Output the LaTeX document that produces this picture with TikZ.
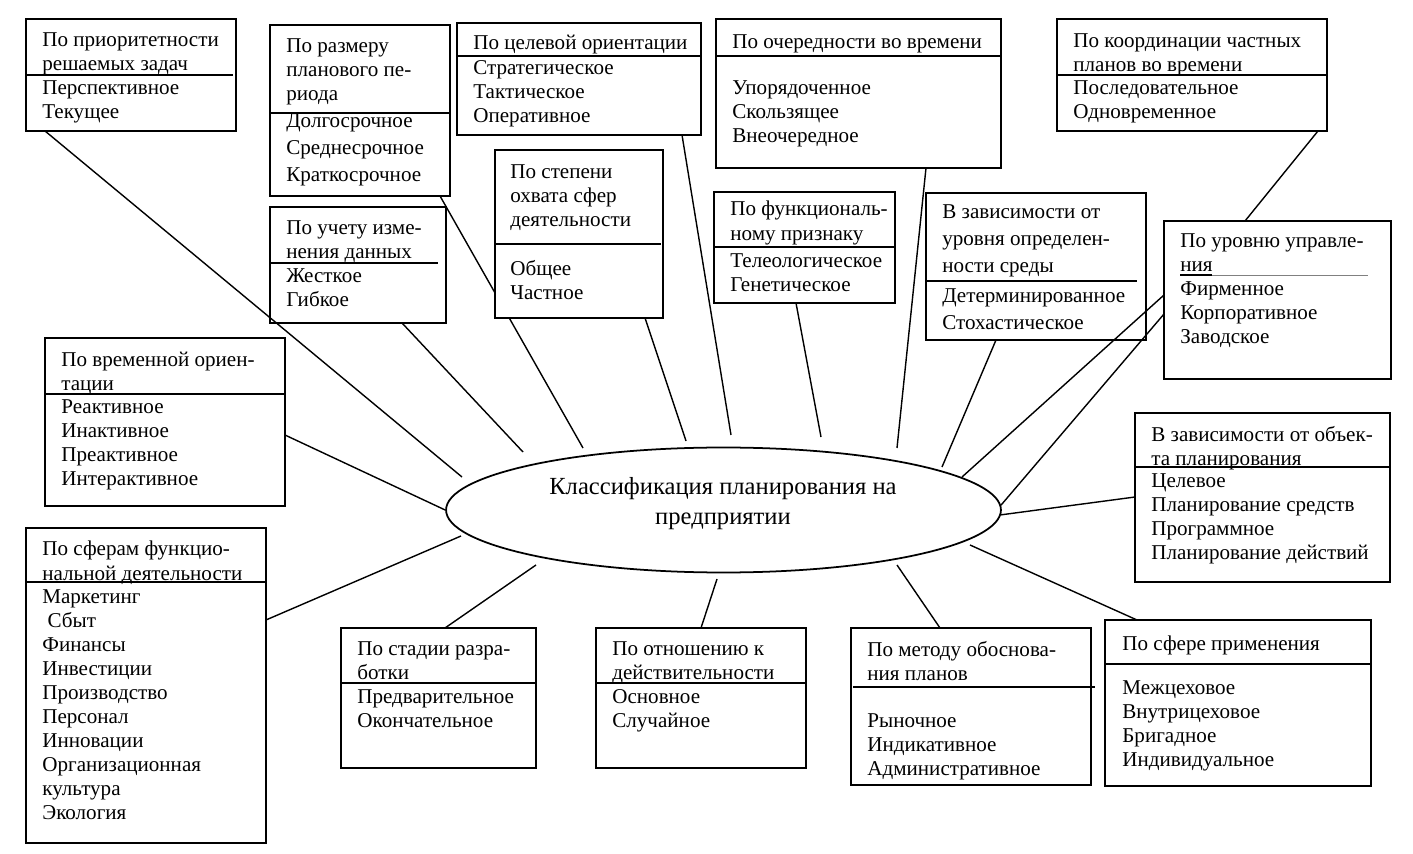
\documentclass[tikz,border=0pt]{standalone}
\usepackage{fontspec}
\setmainfont{Liberation Serif}
\usetikzlibrary{shapes.geometric, positioning, calc}
\tikzset{
  box/.style={rectangle, draw=black, line width=1pt, fill=white, inner sep=0pt, outer sep=0pt, anchor=north west},
  head/.style={anchor=north west, align=left, inner sep=0pt, yshift=-0.08cm, font=\fontsize{12}{13.7}\selectfont, execute at begin node=\strut},
  headw/.style={head, font=\fontsize{12}{15.6}\selectfont},
  hub/.style={ellipse, draw=black, line width=1pt, inner sep=0pt, minimum width=11.1cm, minimum height=2.5cm},
  hubtext/.style={align=center, inner sep=0pt, font=\fontsize{14}{17}\selectfont},
  link/.style={line width=0.8pt},
  divider/.style={line width=0.8pt}
}

\begin{document}
\begin{tikzpicture}[x=0.02cm, y=-0.02cm]
\useasboundingbox (0,0) rectangle (1413,854);

% centre
\node[hub] (plan) at (723.5,510) {};
\node[hubtext] (planT) at (723,504) {Классификация планирования на\\предприятии};

% free ends near the ellipse
\coordinate (priorE) at (462,477);
\coordinate (periodE) at (583,448);
\coordinate (changeE) at (523,452);
\coordinate (scopeE) at (686,441);
\coordinate (goalE) at (731,435);
\coordinate (funcE) at (821,437);
\coordinate (orderE) at (897,448);
\coordinate (envE) at (942,467);
\coordinate (mgmtE) at (962,477);
\coordinate (sphereE) at (970,545);
\coordinate (methodE) at (897,565);
\coordinate (realityE) at (717,579);
\coordinate (stageE) at (536,565);
\coordinate (funcsE) at (461,536);

% this one runs behind the next box
\node[box, minimum width=3.6cm, minimum height=3.42cm] (period) at (270,25) {};
\draw[link] (period.south -| 440,0) -- (periodE);

% top row
\node[box, minimum width=4.2cm, minimum height=2.24cm] (prior) at (26,19) {};
\node[head] (priorH) at (42,28) {По приоритетности\\решаемых задач};
\node[head] (priorL) at (42,76) {Перспективное\\Текущее};
\draw[divider] (prior.west |- 0,75) -- (233,75);

\node[head] (periodH) at (286,34) {По размеру\\планового пе-\\риода};
\node[headw] (periodL) at (286,109) {Долгосрочное\\Среднесрочное\\Краткосрочное};
\draw[divider] (period.west |- 0,113) -- (period.east |- 0,113);

\node[box, minimum width=3.52cm, minimum height=2.32cm] (change) at (270,207) {};
\node[head] (changeH) at (286,216) {По учету изме-\\нения данных};
\node[head] (changeL) at (286,264) {Жесткое\\Гибкое};
\draw[divider] (change.west |- 0,263) -- (438,263);

\node[box, minimum width=4.88cm, minimum height=2.24cm] (goal) at (457,23) {};
\node[head] (goalH) at (473,28) {По целевой ориентации};
\node[head] (goalL) at (473,56) {Стратегическое\\Тактическое\\Оперативное};
\draw[divider] (goal.west |- 0,56) -- (goal.east |- 0,56);

\node[box, minimum width=3.36cm, minimum height=3.36cm] (scope) at (495,150) {};
\node[head] (scopeH) at (510,160) {По степени\\охвата сфер\\деятельности};
\node[head] (scopeL) at (510,256) {Общее\\Частное};
\draw[divider] (scope.west |- 0,244) -- (661,244);

\node[box, minimum width=5.7cm, minimum height=2.98cm] (order) at (716,19) {};
\node[head] (orderH) at (732,27) {По очередности во времени};
\node[head] (orderL) at (732,76) {Упорядоченное\\Скользящее\\Внеочередное};
\draw[divider] (order.west |- 0,56) -- (order.east |- 0,56);

\node[box, minimum width=3.62cm, minimum height=2.22cm] (func) at (714,192) {};
\node[head] (funcH) at (730,197) {По функциональ-\\ному признаку};
\node[head] (funcL) at (730,249) {Телеологическое\\Генетическое};
\draw[divider] (func.west |- 0,247) -- (func.east |- 0,247);

\node[box, minimum width=4.4cm, minimum height=2.94cm] (env) at (926,193) {};
\node[headw] (envH) at (942,200) {В зависимости от\\уровня определен-\\ности среды};
\node[headw] (envL) at (942,284) {Детерминированное\\Стохастическое};
\draw[divider] (env.west |- 0,281) -- (1137,281);

\node[box, minimum width=5.4cm, minimum height=2.24cm] (coord) at (1057,19) {};
\node[head] (coordH) at (1073,29) {По координации частных\\планов во времени};
\node[head] (coordL) at (1073,76) {Последовательное\\Одновременное};
\draw[divider] (coord.west |- 0,75) -- (coord.east |- 0,75);

\node[box, minimum width=4.54cm, minimum height=3.16cm] (mgmt) at (1164,221) {};
\node[head] (mgmtH) at (1180,229) {По уровню управле-\\ния};
\node[head] (mgmtL) at (1180,277) {Фирменное\\Корпоративное\\Заводское};
\draw[divider] (1180,275) -- (1212,275);
\draw[gray, thin] (1212,275) -- (1368,275);

% left side
\node[box, minimum width=4.8cm, minimum height=3.36cm] (time) at (45,338) {};
\node[head] (timeH) at (61,348) {По временной ориен-\\тации};
\node[head] (timeL) at (61,395) {Реактивное\\Инактивное\\Преактивное\\Интерактивное};
\draw[divider] (time.west |- 0,394) -- (time.east |- 0,394);

\node[box, minimum width=4.8cm, minimum height=6.3cm] (funcs) at (26,528) {};
\node[head] (funcsH) at (42,537) {По сферам функцио-\\нальной деятельности};
\node[head] (funcsL) at (42,585) {Маркетинг\\\hspace*{0.25em}Сбыт\\Финансы\\Инвестиции\\Производство\\Персонал\\Инновации\\Организационная\\культура\\Экология};
\draw[divider] (funcs.west |- 0,582) -- (funcs.east |- 0,582);

% bottom row
\node[box, minimum width=3.9cm, minimum height=2.8cm] (stage) at (341,628) {};
\node[head] (stageH) at (357,637) {По стадии разра-\\ботки};
\node[head] (stageL) at (357,685) {Предварительное\\Окончательное};
\draw[divider] (stage.west |- 0,683) -- (stage.east |- 0,683);

\node[box, minimum width=4.2cm, minimum height=2.8cm] (reality) at (596,628) {};
\node[head] (realityH) at (612,637) {По отношению к\\действительности};
\node[head] (realityL) at (612,685) {Основное\\Случайное};
\draw[divider] (reality.west |- 0,683) -- (reality.east |- 0,683);

\node[box, minimum width=4.8cm, minimum height=3.14cm] (method) at (851,628) {};
\node[head] (methodH) at (867,637) {По методу обоснова-\\ния планов};
\node[head] (methodL) at (867,709) {Рыночное\\Индикативное\\Административное};
\draw[divider] (853,687) -- (1095,687);

\node[box, minimum width=5.32cm, minimum height=3.32cm] (sphere) at (1105,620) {};
\node[head] (sphereH) at (1122,629) {По сфере применения};
\node[head] (sphereL) at (1122,676) {Межцеховое\\Внутрицеховое\\Бригадное\\Индивидуальное};
\draw[divider] (sphere.west |- 0,664) -- (sphere.east |- 0,664);

% right side
\node[box, minimum width=5.1cm, minimum height=3.38cm] (object) at (1135,413) {};
\node[head] (objectH) at (1151,422) {В зависимости от объек-\\та планирования};
\node[head] (objectL) at (1151,469) {Целевое\\Планирование средств\\Программное\\Планирование действий};
\draw[divider] (object.west |- 0,467) -- (object.east |- 0,467);

% connectors
\draw[link] (prior.south -| 45,0) -- (priorE);
\draw[link] (change.south -| 402,0) -- (changeE);
\draw[link] (scope.south -| 645,0) -- (scopeE);
\draw[link] (goal.south -| 682,0) -- (goalE);
\draw[link] (func.south -| 796,0) -- (funcE);
\draw[link] (order.south -| 926,0) -- (orderE);
\draw[link] (env.south -| 996,0) -- (envE);
\draw[link] (mgmt.west |- 0,295) -- (mgmtE);
\draw[link] (mgmt.west |- 0,314) -- (plan.1);
\draw[link] (coord.south -| 1318,0) -- (mgmt.north -| 1245,0);
\draw[link] (plan.-1) -- (object.west |- 0,497);
\draw[link] (sphereE) -- (sphere.north -| 1137,0);
\draw[link] (methodE) -- (method.north -| 940,0);
\draw[link] (realityE) -- (reality.north -| 701,0);
\draw[link] (stageE) -- (stage.north -| 445,0);
\draw[link] (funcs.east |- 0,620) -- (funcsE);
\draw[link] (time.east |- 0,435) -- (plan.west);

\end{tikzpicture}
\end{document}
